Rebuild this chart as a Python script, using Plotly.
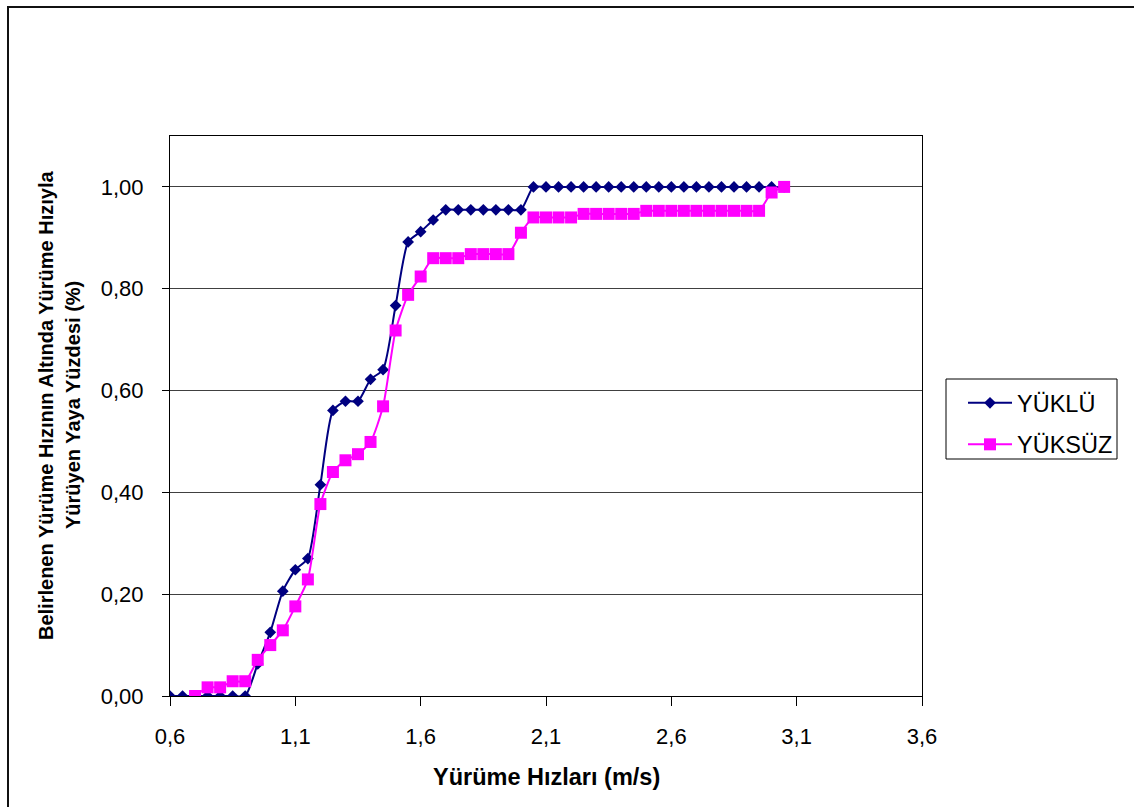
import plotly.graph_objects as go

# Walking speeds (m/s), 0.05 m/s steps
speed_yuklu = [0.60, 0.65, 0.70, 0.75, 0.80, 0.85, 0.90, 0.95, 1.00, 1.05,
               1.10, 1.15, 1.20, 1.25, 1.30, 1.35, 1.40, 1.45, 1.50, 1.55,
               1.60, 1.65, 1.70, 1.75, 1.80, 1.85, 1.90, 1.95, 2.00, 2.05,
               2.10, 2.15, 2.20, 2.25, 2.30, 2.35, 2.40, 2.45, 2.50, 2.55,
               2.60, 2.65, 2.70, 2.75, 2.80, 2.85, 2.90, 2.95, 3.00, 3.05]
share_yuklu = [0.000, 0.000, 0.000, 0.000, 0.000, 0.000, 0.000, 0.063, 0.125, 0.206,
               0.248, 0.270, 0.415, 0.561, 0.579, 0.579, 0.622, 0.641, 0.767, 0.892,
               0.912, 0.935, 0.955, 0.955, 0.955, 0.955, 0.955, 0.955, 0.955, 1.000,
               1.000, 1.000, 1.000, 1.000, 1.000, 1.000, 1.000, 1.000, 1.000, 1.000,
               1.000, 1.000, 1.000, 1.000, 1.000, 1.000, 1.000, 1.000, 1.000, 1.000]

speed_yuksuz = [0.70, 0.75, 0.80, 0.85, 0.90, 0.95, 1.00, 1.05,
                1.10, 1.15, 1.20, 1.25, 1.30, 1.35, 1.40, 1.45, 1.50, 1.55,
                1.60, 1.65, 1.70, 1.75, 1.80, 1.85, 1.90, 1.95, 2.00, 2.05,
                2.10, 2.15, 2.20, 2.25, 2.30, 2.35, 2.40, 2.45, 2.50, 2.55,
                2.60, 2.65, 2.70, 2.75, 2.80, 2.85, 2.90, 2.95, 3.00, 3.05]
share_yuksuz = [0.000, 0.017, 0.017, 0.029, 0.029, 0.071, 0.100, 0.129,
                0.176, 0.229, 0.377, 0.440, 0.463, 0.475, 0.499, 0.569, 0.718, 0.788,
                0.824, 0.860, 0.860, 0.860, 0.868, 0.868, 0.868, 0.868, 0.910, 0.940,
                0.940, 0.940, 0.940, 0.947, 0.947, 0.947, 0.947, 0.947, 0.953, 0.953,
                0.953, 0.953, 0.953, 0.953, 0.953, 0.953, 0.953, 0.953, 0.989, 1.000]

x_ticks = [0.6, 1.1, 1.6, 2.1, 2.6, 3.1, 3.6]
y_ticks = [0.0, 0.2, 0.4, 0.6, 0.8, 1.0]

x_title = "Yürüme Hızları (m/s)"
y_title_lines = ["Belirlenen Yürüme Hızının Altında Yürüme Hızıyla",
                 "Yürüyen Yaya Yüzdesi (%)"]

FONT = "Liberation Sans, Arial, sans-serif"

W, H = 1134, 807
L, R, T, B = 170, 212, 136, 111
PW, PH = W - L - R, H - T - B


def px_x(px):
    return (px - L) / PW


def px_y(py):
    return (H - B - py) / PH


fig = go.Figure()
fig.add_trace(go.Scatter(
    x=speed_yuklu, y=share_yuklu, name="YÜKLÜ", legendgroup="a",
    mode="lines+markers",
    line=dict(color="#000080", width=2, shape="spline", smoothing=0.6),
    marker=dict(symbol="diamond", size=9, color="#000080"),
))
fig.add_trace(go.Scatter(
    x=speed_yuksuz, y=share_yuksuz, name="YÜKSÜZ", legendgroup="b",
    mode="lines+markers",
    line=dict(color="#FF00FF", width=2, shape="spline", smoothing=0.6),
    marker=dict(symbol="square", size=12, color="#FF00FF"),
))

annotations = [
    dict(text="<b>" + x_title + "</b>", xref="paper", yref="paper",
         x=0.5, y=px_y(777), xanchor="center", yanchor="middle",
         showarrow=False, font=dict(family=FONT, size=23.5, color="black")),
]
for line_text, cx in zip(y_title_lines, [46, 73]):
    annotations.append(dict(
        text="<b>" + line_text + "</b>", xref="paper", yref="paper",
        x=px_x(cx), y=px_y(405), xanchor="center", yanchor="middle",
        textangle=-90, showarrow=False,
        font=dict(family=FONT, size=20, color="black")))

fig.update_layout(
    width=W, height=H,
    margin=dict(l=L, r=R, t=T, b=B),
    paper_bgcolor="white", plot_bgcolor="white",
    separators=",.",
    font=dict(family=FONT, color="black", size=22),
    legend=dict(
        x=px_x(963), y=px_y(381), xanchor="left", yanchor="top",
        borderwidth=0, bgcolor="rgba(0,0,0,0)",
        font=dict(family=FONT, size=23.5, color="black"),
        tracegroupgap=8, traceorder="grouped", itemwidth=44,
    ),
    xaxis=dict(
        range=[0.6, 3.6], tickvals=x_ticks, tickformat=".1f",
        showgrid=False, zeroline=False,
        showline=True, linecolor="black", linewidth=1, mirror=True,
        ticks="outside", ticklen=9, tickcolor="black",
        ticklabelstandoff=12,
        tickfont=dict(family=FONT, size=22, color="black"),
    ),
    yaxis=dict(
        range=[0, 1.1], tickvals=y_ticks, tickformat=".2f",
        showgrid=True, gridcolor="#404040", gridwidth=1, zeroline=False,
        showline=True, linecolor="black", linewidth=1, mirror=True,
        ticks="outside", ticklen=7, tickcolor="black",
        ticklabelstandoff=14,
        tickfont=dict(family=FONT, size=22, color="black"),
    ),
    annotations=annotations,
    shapes=[
        # outer chart frame
        dict(type="rect", xref="paper", yref="paper",
             x0=px_x(8), x1=px_x(W + 10), y0=px_y(H + 10), y1=px_y(7),
             line=dict(color="#111111", width=2), fillcolor="rgba(0,0,0,0)",
             layer="below"),
        # legend frame
        dict(type="rect", xref="paper", yref="paper",
             x0=px_x(946), x1=px_x(1117), y0=px_y(459), y1=px_y(379),
             line=dict(color="black", width=1), fillcolor="white",
             layer="below"),
    ],
)

fig.write_html("out.html")
